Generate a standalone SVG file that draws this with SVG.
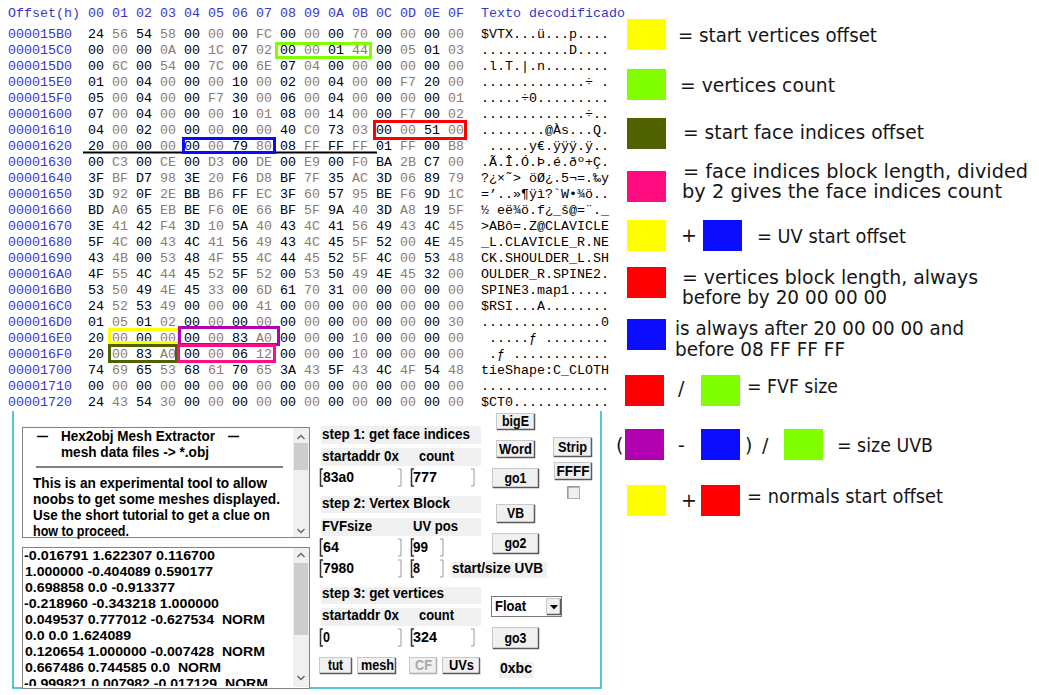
<svg xmlns="http://www.w3.org/2000/svg" width="1039" height="695" viewBox="0 0 1039 695">
<style>
.mono{font-family:"Liberation Mono","Courier New",monospace;font-size:13.33px;white-space:pre}
.hdr{fill:#3636cc}
.hb{fill:#000}
.g{fill:#927b69}
.ui{font-family:"Liberation Sans",Arial,sans-serif;font-weight:bold;font-size:14px;fill:#000}
.num{font-family:"Liberation Sans",Arial,sans-serif;font-weight:bold;font-size:13px;fill:#000}
.bt{font-family:"Liberation Sans",Arial,sans-serif;font-weight:bold;font-size:14px;fill:#000;text-anchor:middle}
.lg{font-family:"DejaVu Sans","Liberation Sans",sans-serif;font-size:19px;fill:#161616}
.box{fill:none;stroke-width:3}
.lbl{fill:#f0f0f0}
.bf{fill:#f0f0f0;stroke:#c8c8c8;stroke-width:1}
.bs{fill:none;stroke:#5a5a5a;stroke-width:1.5}
.brL{fill:none;stroke:#333;stroke-width:1.5}
.brR{fill:none;stroke:#999;stroke-width:1}
.chev{fill:none;stroke:#606060;stroke-width:1.3}
.sw{stroke:none}
</style>
<defs>
<clipPath id="clipLower"><rect x="23" y="548" width="270" height="138"/></clipPath>
</defs>
<rect x="0" y="0" width="1039" height="695" fill="#fff"/>

<g id="hex-dump">
<text class="mono hdr" x="8" y="16.5">Offset(h)</text>
<text class="mono hdr" x="88" y="16.5">00 01 02 03 04 05 06 07 08 09 0A 0B 0C 0D 0E 0F</text>
<text class="mono hdr" x="481" y="16.5">Texto decodificado</text>

<g id="offsets">
<text class="mono hdr" x="8" y="37.5">000015B0</text>
<text class="mono hdr" x="8" y="53.5">000015C0</text>
<text class="mono hdr" x="8" y="69.5">000015D0</text>
<text class="mono hdr" x="8" y="85.5">000015E0</text>
<text class="mono hdr" x="8" y="101.5">000015F0</text>
<text class="mono hdr" x="8" y="117.5">00001600</text>
<text class="mono hdr" x="8" y="133.5">00001610</text>
<text class="mono hdr" x="8" y="149.5">00001620</text>
<text class="mono hdr" x="8" y="165.5">00001630</text>
<text class="mono hdr" x="8" y="181.5">00001640</text>
<text class="mono hdr" x="8" y="197.5">00001650</text>
<text class="mono hdr" x="8" y="213.5">00001660</text>
<text class="mono hdr" x="8" y="229.5">00001670</text>
<text class="mono hdr" x="8" y="245.5">00001680</text>
<text class="mono hdr" x="8" y="261.5">00001690</text>
<text class="mono hdr" x="8" y="277.5">000016A0</text>
<text class="mono hdr" x="8" y="293.5">000016B0</text>
<text class="mono hdr" x="8" y="309.5">000016C0</text>
<text class="mono hdr" x="8" y="325.5">000016D0</text>
<text class="mono hdr" x="8" y="341.5">000016E0</text>
<text class="mono hdr" x="8" y="357.5">000016F0</text>
<text class="mono hdr" x="8" y="373.5">00001700</text>
<text class="mono hdr" x="8" y="389.5">00001710</text>
<text class="mono hdr" x="8" y="405.5">00001720</text>
</g>

<g id="bytes">
<text class="mono hb" x="88" y="37.5">24 <tspan class="g">56</tspan> 54 <tspan class="g">58</tspan> 00 <tspan class="g">00</tspan> 00 <tspan class="g">FC</tspan> 00 <tspan class="g">00</tspan> 00 <tspan class="g">70</tspan> 00 <tspan class="g">00</tspan> 00 <tspan class="g">00</tspan></text>
<text class="mono hb" x="88" y="53.5">00 <tspan class="g">00</tspan> 00 <tspan class="g">0A</tspan> 00 <tspan class="g">1C</tspan> 07 <tspan class="g">02</tspan> 00 <tspan class="g">00</tspan> 01 <tspan class="g">44</tspan> 00 <tspan class="g">05</tspan> 01 <tspan class="g">03</tspan></text>
<text class="mono hb" x="88" y="69.5">00 <tspan class="g">6C</tspan> 00 <tspan class="g">54</tspan> 00 <tspan class="g">7C</tspan> 00 <tspan class="g">6E</tspan> 07 <tspan class="g">04</tspan> 00 <tspan class="g">00</tspan> 00 <tspan class="g">00</tspan> 00 <tspan class="g">00</tspan></text>
<text class="mono hb" x="88" y="85.5">01 <tspan class="g">00</tspan> 04 <tspan class="g">00</tspan> 00 <tspan class="g">00</tspan> 10 <tspan class="g">00</tspan> 02 <tspan class="g">00</tspan> 04 <tspan class="g">00</tspan> 00 <tspan class="g">F7</tspan> 20 <tspan class="g">00</tspan></text>
<text class="mono hb" x="88" y="101.5">05 <tspan class="g">00</tspan> 04 <tspan class="g">00</tspan> 00 <tspan class="g">F7</tspan> 30 <tspan class="g">00</tspan> 06 <tspan class="g">00</tspan> 04 <tspan class="g">00</tspan> 00 <tspan class="g">00</tspan> 00 <tspan class="g">01</tspan></text>
<text class="mono hb" x="88" y="117.5">07 <tspan class="g">00</tspan> 04 <tspan class="g">00</tspan> 00 <tspan class="g">00</tspan> 10 <tspan class="g">01</tspan> 08 <tspan class="g">00</tspan> 14 <tspan class="g">00</tspan> 00 <tspan class="g">F7</tspan> 00 <tspan class="g">02</tspan></text>
<text class="mono hb" x="88" y="133.5">04 <tspan class="g">00</tspan> 02 <tspan class="g">00</tspan> 00 <tspan class="g">00</tspan> 00 <tspan class="g">00</tspan> 40 <tspan class="g">C0</tspan> 73 <tspan class="g">03</tspan> 00 <tspan class="g">00</tspan> 51 <tspan class="g">00</tspan></text>
<text class="mono hb" x="88" y="149.5">20 <tspan class="g">00</tspan> 00 <tspan class="g">00</tspan> 00 <tspan class="g">00</tspan> 79 <tspan class="g">80</tspan> 08 <tspan class="g">FF</tspan> FF <tspan class="g">FF</tspan> 01 <tspan class="g">FF</tspan> 00 <tspan class="g">B8</tspan></text>
<text class="mono hb" x="88" y="165.5">00 <tspan class="g">C3</tspan> 00 <tspan class="g">CE</tspan> 00 <tspan class="g">D3</tspan> 00 <tspan class="g">DE</tspan> 00 <tspan class="g">E9</tspan> 00 <tspan class="g">F0</tspan> BA <tspan class="g">2B</tspan> C7 <tspan class="g">00</tspan></text>
<text class="mono hb" x="88" y="181.5">3F <tspan class="g">BF</tspan> D7 <tspan class="g">98</tspan> 3E <tspan class="g">20</tspan> F6 <tspan class="g">D8</tspan> BF <tspan class="g">7F</tspan> 35 <tspan class="g">AC</tspan> 3D <tspan class="g">06</tspan> 89 <tspan class="g">79</tspan></text>
<text class="mono hb" x="88" y="197.5">3D <tspan class="g">92</tspan> 0F <tspan class="g">2E</tspan> BB <tspan class="g">B6</tspan> FF <tspan class="g">EC</tspan> 3F <tspan class="g">60</tspan> 57 <tspan class="g">95</tspan> BE <tspan class="g">F6</tspan> 9D <tspan class="g">1C</tspan></text>
<text class="mono hb" x="88" y="213.5">BD <tspan class="g">A0</tspan> 65 <tspan class="g">EB</tspan> BE <tspan class="g">F6</tspan> 0E <tspan class="g">66</tspan> BF <tspan class="g">5F</tspan> 9A <tspan class="g">40</tspan> 3D <tspan class="g">A8</tspan> 19 <tspan class="g">5F</tspan></text>
<text class="mono hb" x="88" y="229.5">3E <tspan class="g">41</tspan> 42 <tspan class="g">F4</tspan> 3D <tspan class="g">10</tspan> 5A <tspan class="g">40</tspan> 43 <tspan class="g">4C</tspan> 41 <tspan class="g">56</tspan> 49 <tspan class="g">43</tspan> 4C <tspan class="g">45</tspan></text>
<text class="mono hb" x="88" y="245.5">5F <tspan class="g">4C</tspan> 00 <tspan class="g">43</tspan> 4C <tspan class="g">41</tspan> 56 <tspan class="g">49</tspan> 43 <tspan class="g">4C</tspan> 45 <tspan class="g">5F</tspan> 52 <tspan class="g">00</tspan> 4E <tspan class="g">45</tspan></text>
<text class="mono hb" x="88" y="261.5">43 <tspan class="g">4B</tspan> 00 <tspan class="g">53</tspan> 48 <tspan class="g">4F</tspan> 55 <tspan class="g">4C</tspan> 44 <tspan class="g">45</tspan> 52 <tspan class="g">5F</tspan> 4C <tspan class="g">00</tspan> 53 <tspan class="g">48</tspan></text>
<text class="mono hb" x="88" y="277.5">4F <tspan class="g">55</tspan> 4C <tspan class="g">44</tspan> 45 <tspan class="g">52</tspan> 5F <tspan class="g">52</tspan> 00 <tspan class="g">53</tspan> 50 <tspan class="g">49</tspan> 4E <tspan class="g">45</tspan> 32 <tspan class="g">00</tspan></text>
<text class="mono hb" x="88" y="293.5">53 <tspan class="g">50</tspan> 49 <tspan class="g">4E</tspan> 45 <tspan class="g">33</tspan> 00 <tspan class="g">6D</tspan> 61 <tspan class="g">70</tspan> 31 <tspan class="g">00</tspan> 00 <tspan class="g">00</tspan> 00 <tspan class="g">00</tspan></text>
<text class="mono hb" x="88" y="309.5">24 <tspan class="g">52</tspan> 53 <tspan class="g">49</tspan> 00 <tspan class="g">00</tspan> 00 <tspan class="g">41</tspan> 00 <tspan class="g">00</tspan> 00 <tspan class="g">00</tspan> 00 <tspan class="g">00</tspan> 00 <tspan class="g">00</tspan></text>
<text class="mono hb" x="88" y="325.5">01 <tspan class="g">05</tspan> 01 <tspan class="g">02</tspan> 00 <tspan class="g">00</tspan> 00 <tspan class="g">00</tspan> 00 <tspan class="g">00</tspan> 00 <tspan class="g">00</tspan> 00 <tspan class="g">00</tspan> 00 <tspan class="g">30</tspan></text>
<text class="mono hb" x="88" y="341.5">20 <tspan class="g">00</tspan> 00 <tspan class="g">00</tspan> 00 <tspan class="g">00</tspan> 83 <tspan class="g">A0</tspan> 00 <tspan class="g">00</tspan> 00 <tspan class="g">10</tspan> 00 <tspan class="g">00</tspan> 00 <tspan class="g">00</tspan></text>
<text class="mono hb" x="88" y="357.5">20 <tspan class="g">00</tspan> 83 <tspan class="g">A0</tspan> 00 <tspan class="g">00</tspan> 06 <tspan class="g">12</tspan> 00 <tspan class="g">00</tspan> 00 <tspan class="g">10</tspan> 00 <tspan class="g">00</tspan> 00 <tspan class="g">00</tspan></text>
<text class="mono hb" x="88" y="373.5">74 <tspan class="g">69</tspan> 65 <tspan class="g">53</tspan> 68 <tspan class="g">61</tspan> 70 <tspan class="g">65</tspan> 3A <tspan class="g">43</tspan> 5F <tspan class="g">43</tspan> 4C <tspan class="g">4F</tspan> 54 <tspan class="g">48</tspan></text>
<text class="mono hb" x="88" y="389.5">00 <tspan class="g">00</tspan> 00 <tspan class="g">00</tspan> 00 <tspan class="g">00</tspan> 00 <tspan class="g">00</tspan> 00 <tspan class="g">00</tspan> 00 <tspan class="g">00</tspan> 00 <tspan class="g">00</tspan> 00 <tspan class="g">00</tspan></text>
<text class="mono hb" x="88" y="405.5">24 <tspan class="g">43</tspan> 54 <tspan class="g">30</tspan> 00 <tspan class="g">00</tspan> 00 <tspan class="g">00</tspan> 00 <tspan class="g">00</tspan> 00 <tspan class="g">00</tspan> 00 <tspan class="g">00</tspan> 00 <tspan class="g">00</tspan></text>
</g>

<g id="decoded-text">
<text class="mono hb" x="481" y="37.5">$VTX...ü...p....</text>
<text class="mono hb" x="481" y="53.5">...........D....</text>
<text class="mono hb" x="481" y="69.5">.l.T.|.n........</text>
<text class="mono hb" x="481" y="85.5">.............÷ .</text>
<text class="mono hb" x="481" y="101.5">.....÷0.........</text>
<text class="mono hb" x="481" y="117.5">.............÷..</text>
<text class="mono hb" x="481" y="133.5">........@Às...Q.</text>
<text class="mono hb" x="481" y="149.5"> .....y€.ÿÿÿ.ÿ..</text>
<text class="mono hb" x="481" y="165.5">.Ã.Î.Ó.Þ.é.ðº+Ç.</text>
<text class="mono hb" x="481" y="181.5">?¿×˜> öØ¿.5¬=.‰y</text>
<text class="mono hb" x="481" y="197.5">=’..»¶ÿì?`W•¾ö..</text>
<text class="mono hb" x="481" y="213.5">½ eë¾ö.f¿_š@=¨._</text>
<text class="mono hb" x="481" y="229.5">&gt;ABô=.Z@CLAVICLE</text>
<text class="mono hb" x="481" y="245.5">_L.CLAVICLE_R.NE</text>
<text class="mono hb" x="481" y="261.5">CK.SHOULDER_L.SH</text>
<text class="mono hb" x="481" y="277.5">OULDER_R.SPINE2.</text>
<text class="mono hb" x="481" y="293.5">SPINE3.map1.....</text>
<text class="mono hb" x="481" y="309.5">$RSI...A........</text>
<text class="mono hb" x="481" y="325.5">...............0</text>
<text class="mono hb" x="481" y="341.5"> .....ƒ ........</text>
<text class="mono hb" x="481" y="357.5"> .ƒ ............</text>
<text class="mono hb" x="481" y="373.5">tieShape:C_CLOTH</text>
<text class="mono hb" x="481" y="389.5">................</text>
<text class="mono hb" x="481" y="405.5">$CT0............</text>
</g>

<g id="highlights">
<line x1="83" y1="152.5" x2="377" y2="152.5" stroke="#000" stroke-width="2"/>
<rect class="box" x="276.5" y="43.5" width="94" height="14" stroke="#80ff00"/>
<rect class="box" x="374.5" y="121.5" width="91" height="17" stroke="#ff0000"/>
<rect class="box" x="183.5" y="138.5" width="91" height="14" stroke="#0a0aff"/>
<rect class="box" x="109.5" y="329.5" width="69" height="13" stroke="#ffff00"/>
<rect class="box" x="179.5" y="327.5" width="99" height="17" stroke="#b000b0"/>
<rect class="box" x="109.5" y="345.5" width="67" height="16" stroke="#4f6100"/>
<rect class="box" x="178.5" y="345.5" width="96" height="16" stroke="#ff0d86"/>
</g>
</g>

<g id="tool-panel">
<path d="M13,411 V688 H601 V411" fill="none" stroke="#1ab4cc" stroke-width="1.5"/>

<g id="info-box">
<rect x="22.5" y="427.5" width="287" height="110" fill="#fff" stroke="#828282"/>
<rect x="293" y="428" width="16" height="109" fill="#f0f0f0"/>
<polyline class="chev" points="297.5,439 301,435.5 304.5,439"/>
<rect x="294" y="443" width="14" height="27" fill="#cdcdcd"/>
<polyline class="chev" points="297.5,529 301,532.5 304.5,529"/>
<text class="ui" x="37" y="441" textLength="11" lengthAdjust="spacingAndGlyphs">—</text>
<text class="ui" x="61" y="441" textLength="154" lengthAdjust="spacingAndGlyphs">Hex2obj Mesh Extractor</text>
<text class="ui" x="228" y="441" textLength="11" lengthAdjust="spacingAndGlyphs">—</text>
<text class="ui" x="61" y="457" textLength="148" lengthAdjust="spacingAndGlyphs">mesh data files -&gt; *.obj</text>
<line x1="36" y1="467" x2="283" y2="467" stroke="#000" stroke-width="1"/>
<text class="ui" x="33" y="488" textLength="234" lengthAdjust="spacingAndGlyphs">This is an experimental tool to allow</text>
<text class="ui" x="33" y="504" textLength="247" lengthAdjust="spacingAndGlyphs">noobs to get some meshes displayed.</text>
<text class="ui" x="33" y="520" textLength="237" lengthAdjust="spacingAndGlyphs">Use the short tutorial to get a clue on</text>
<text class="ui" x="33" y="536" textLength="96" lengthAdjust="spacingAndGlyphs">how to proceed.</text>
</g>

<g id="output-box">
<rect x="22.5" y="547.5" width="287" height="141" fill="#fff" stroke="#828282"/>
<rect x="293" y="548" width="16" height="139" fill="#f0f0f0"/>
<polyline class="chev" points="297.5,557 301,553.5 304.5,557"/>
<rect x="294" y="563" width="14" height="72" fill="#cdcdcd"/>
<polyline class="chev" points="297.5,676 301,679.5 304.5,676"/>
<g clip-path="url(#clipLower)">
<text class="num" x="24" y="560" textLength="191" lengthAdjust="spacingAndGlyphs">-0.016791 1.622307 0.116700</text>
<text class="num" x="25" y="576" textLength="188" lengthAdjust="spacingAndGlyphs">1.000000 -0.404089 0.590177</text>
<text class="num" x="25" y="592" textLength="150" lengthAdjust="spacingAndGlyphs">0.698858 0.0 -0.913377</text>
<text class="num" x="24" y="608" textLength="195" lengthAdjust="spacingAndGlyphs">-0.218960 -0.343218 1.000000</text>
<text class="num" x="25" y="624" textLength="240" lengthAdjust="spacingAndGlyphs" style="white-space:pre">0.049537 0.777012 -0.627534  NORM</text>
<text class="num" x="25" y="640" textLength="106" lengthAdjust="spacingAndGlyphs">0.0 0.0 1.624089</text>
<text class="num" x="25" y="656" textLength="240" lengthAdjust="spacingAndGlyphs" style="white-space:pre">0.120654 1.000000 -0.007428  NORM</text>
<text class="num" x="25" y="672" textLength="196" lengthAdjust="spacingAndGlyphs" style="white-space:pre">0.667486 0.744585 0.0  NORM</text>
<text class="num" x="24" y="688" textLength="244" lengthAdjust="spacingAndGlyphs" style="white-space:pre">-0.999821 0.007982 -0.017129  NORM</text>
</g>
</g>

<g id="step-labels">
<rect class="lbl" x="321" y="426" width="160" height="18"/>
<rect class="lbl" x="321" y="448" width="160" height="18"/>
<rect class="lbl" x="321" y="496" width="160" height="17"/>
<rect class="lbl" x="321" y="518" width="160" height="18"/>
<rect class="lbl" x="451" y="562" width="96" height="16"/>
<rect class="lbl" x="321" y="587" width="160" height="17"/>
<rect class="lbl" x="321" y="608" width="160" height="18"/>
<rect class="lbl" x="499" y="662" width="35" height="16"/>
<text class="ui" x="322" y="439" textLength="148" lengthAdjust="spacingAndGlyphs">step 1: get face indices</text>
<text class="ui" x="322" y="461" textLength="77" lengthAdjust="spacingAndGlyphs">startaddr 0x</text>
<text class="ui" x="419" y="461" textLength="35" lengthAdjust="spacingAndGlyphs">count</text>
<text class="ui" x="322" y="508" textLength="128" lengthAdjust="spacingAndGlyphs">step 2: Vertex Block</text>
<text class="ui" x="322" y="531" textLength="50" lengthAdjust="spacingAndGlyphs">FVFsize</text>
<text class="ui" x="413" y="531" textLength="45" lengthAdjust="spacingAndGlyphs">UV pos</text>
<text class="ui" x="452" y="573" textLength="91" lengthAdjust="spacingAndGlyphs">start/size UVB</text>
<text class="ui" x="322" y="598" textLength="122" lengthAdjust="spacingAndGlyphs">step 3: get vertices</text>
<text class="ui" x="322" y="620" textLength="77" lengthAdjust="spacingAndGlyphs">startaddr 0x</text>
<text class="ui" x="419" y="620" textLength="35" lengthAdjust="spacingAndGlyphs">count</text>
<text class="ui" x="500" y="673" textLength="32" lengthAdjust="spacingAndGlyphs">0xbc</text>
</g>

<g id="input-fields">
<path class="brL" d="M323,469 h-2.5 v17 h2.5 M414,469 h-2.5 v17 h2.5 M323,539 h-2.5 v17 h2.5 M414,539 h-2.5 v17 h2.5 M323,560 h-2.5 v17 h2.5 M414,560 h-2.5 v17 h2.5 M323,629 h-2.5 v17 h2.5 M414,629 h-2.5 v17 h2.5"/>
<path class="brR" d="M398,469 h3 v17 h-3 M471,469 h3 v17 h-3 M398,539 h3 v17 h-3 M440,539 h3 v17 h-3 M398,560 h3 v17 h-3 M440,560 h3 v17 h-3 M398,629 h3 v17 h-3 M471,629 h3 v17 h-3"/>
<text class="ui" x="323" y="482" textLength="31" lengthAdjust="spacingAndGlyphs">83a0</text>
<text class="ui" x="413" y="482" textLength="24" lengthAdjust="spacingAndGlyphs">777</text>
<text class="ui" x="323" y="552" textLength="16" lengthAdjust="spacingAndGlyphs">64</text>
<text class="ui" x="413" y="552" textLength="15" lengthAdjust="spacingAndGlyphs">99</text>
<text class="ui" x="323" y="573" textLength="31" lengthAdjust="spacingAndGlyphs">7980</text>
<text class="ui" x="413" y="573" textLength="7" lengthAdjust="spacingAndGlyphs">8</text>
<text class="ui" x="323" y="642" textLength="7" lengthAdjust="spacingAndGlyphs">0</text>
<text class="ui" x="413" y="642" textLength="24" lengthAdjust="spacingAndGlyphs">324</text>
</g>

<g id="buttons">
<g id="btn-bigE"><rect class="bf" x="496.5" y="413.5" width="38" height="16"/><path class="bs" d="M497,429.5 H534.5 V414"/><text class="bt" x="515.5" y="426" textLength="27" lengthAdjust="spacingAndGlyphs">bigE</text></g>
<g id="btn-Word"><rect class="bf" x="496.5" y="440.5" width="38" height="17"/><path class="bs" d="M497,457.5 H534.5 V441"/><text class="bt" x="515.5" y="453.5" textLength="33" lengthAdjust="spacingAndGlyphs">Word</text></g>
<g id="btn-go1"><rect class="bf" x="492.5" y="468.5" width="46" height="19"/><path class="bs" d="M493,487.5 H538.5 V469"/><text class="bt" x="515.5" y="482.5" textLength="22" lengthAdjust="spacingAndGlyphs">go1</text></g>
<g id="btn-Strip"><rect class="bf" x="553.5" y="437.5" width="38" height="19"/><path class="bs" d="M554,456.5 H591.5 V438"/><text class="bt" x="572.5" y="451.5" textLength="29" lengthAdjust="spacingAndGlyphs">Strip</text></g>
<g id="btn-FFFF"><rect class="bf" x="554.5" y="462.5" width="37" height="17"/><path class="bs" d="M555,479.5 H591.5 V463"/><text class="bt" x="573" y="475.5" textLength="33" lengthAdjust="spacingAndGlyphs">FFFF</text></g>
<g id="checkbox"><rect x="567.5" y="486.5" width="12" height="12" fill="#f0f0f0" stroke="#b0b0b0"/><path d="M568,498 V487 H579" fill="none" stroke="#808080"/></g>
<g id="btn-VB"><rect class="bf" x="496.5" y="504.5" width="38" height="18"/><path class="bs" d="M497,522.5 H534.5 V505"/><text class="bt" x="515.5" y="518" textLength="17" lengthAdjust="spacingAndGlyphs">VB</text></g>
<g id="btn-go2"><rect class="bf" x="492.5" y="533.5" width="46" height="20"/><path class="bs" d="M493,553.5 H538.5 V534"/><text class="bt" x="515.5" y="548" textLength="22" lengthAdjust="spacingAndGlyphs">go2</text></g>
<g id="dropdown-Float"><rect x="491.5" y="596.5" width="70" height="20" fill="#fff" stroke="#7a7a7a"/><rect class="bf" x="546.5" y="598.5" width="14" height="16"/><path class="bs" d="M547,614.5 H560.5 V599"/><polygon points="550,605 558,605 554,609.5" fill="#000"/><text class="ui" x="495" y="611" textLength="31" lengthAdjust="spacingAndGlyphs">Float</text></g>
<g id="btn-go3"><rect class="bf" x="492.5" y="627.5" width="46" height="21"/><path class="bs" d="M493,648.5 H538.5 V628"/><text class="bt" x="515.5" y="642.5" textLength="22" lengthAdjust="spacingAndGlyphs">go3</text></g>
<g id="btn-tut"><rect class="bf" x="319.5" y="657.5" width="32" height="16"/><path class="bs" d="M320,673.5 H351.5 V658"/><text class="bt" x="335.5" y="670" textLength="15" lengthAdjust="spacingAndGlyphs">tut</text></g>
<g id="btn-mesh"><rect class="bf" x="357.5" y="657.5" width="38" height="16"/><path class="bs" d="M358,673.5 H395.5 V658"/><text class="bt" x="377.5" y="670" textLength="33" lengthAdjust="spacingAndGlyphs">mesh</text></g>
<g id="btn-CF"><rect class="bf" x="409.5" y="657.5" width="27" height="16"/><path d="M410,673.5 H436.5 V658" fill="none" stroke="#b0b0b0" stroke-width="1.5"/><text class="bt" x="423.5" y="670" textLength="17" lengthAdjust="spacingAndGlyphs" style="fill:#a8a8a8">CF</text></g>
<g id="btn-UVs"><rect class="bf" x="442.5" y="657.5" width="37" height="16"/><path class="bs" d="M443,673.5 H479.5 V658"/><text class="bt" x="461.5" y="670" textLength="25" lengthAdjust="spacingAndGlyphs">UVs</text></g>
</g>
</g>

<g id="legend">
<g id="legend-1"><rect class="sw" x="627" y="19" width="39" height="31" fill="#ffff00"/><text class="lg" x="678" y="42" textLength="199" lengthAdjust="spacingAndGlyphs">= start vertices offset</text></g>
<g id="legend-2"><rect class="sw" x="627" y="69" width="39" height="31" fill="#80ff00"/><text class="lg" x="680" y="92" textLength="155" lengthAdjust="spacingAndGlyphs">= vertices count</text></g>
<g id="legend-3"><rect class="sw" x="627" y="118" width="39" height="31" fill="#4f6100"/><text class="lg" x="683" y="139" textLength="241" lengthAdjust="spacingAndGlyphs">= start face indices offset</text></g>
<g id="legend-4"><rect class="sw" x="627" y="171" width="39" height="31" fill="#ff0d80"/><text class="lg" x="683" y="177.5" textLength="345" lengthAdjust="spacingAndGlyphs">= face indices block length, divided</text><text class="lg" x="682" y="197.5" textLength="320" lengthAdjust="spacingAndGlyphs">by 2 gives the face indices count</text></g>
<g id="legend-5"><rect class="sw" x="627" y="220" width="39" height="31" fill="#ffff00"/><text class="lg" x="681" y="242">+</text><rect class="sw" x="703" y="220" width="39" height="31" fill="#0c0cff"/><text class="lg" x="757" y="243" textLength="149" lengthAdjust="spacingAndGlyphs">= UV start offset</text></g>
<g id="legend-6"><rect class="sw" x="627" y="267" width="39" height="31" fill="#ff0000"/><text class="lg" x="682" y="284" textLength="296" lengthAdjust="spacingAndGlyphs">= vertices block length, always</text><text class="lg" x="682" y="304" textLength="205" lengthAdjust="spacingAndGlyphs">before by 20 00 00 00</text></g>
<g id="legend-7"><rect class="sw" x="627" y="319" width="39" height="31" fill="#0c0cff"/><text class="lg" x="675" y="335" textLength="289" lengthAdjust="spacingAndGlyphs">is always after 20 00 00 00 and</text><text class="lg" x="675" y="356" textLength="170" lengthAdjust="spacingAndGlyphs">before 08 FF FF FF</text></g>
<g id="legend-8"><rect class="sw" x="625" y="375" width="39" height="31" fill="#ff0000"/><text class="lg" x="678" y="395">/</text><rect class="sw" x="701" y="375" width="39" height="31" fill="#80ff00"/><text class="lg" x="747" y="393" textLength="91" lengthAdjust="spacingAndGlyphs">= FVF size</text></g>
<g id="legend-9"><text class="lg" x="616" y="452">(</text><rect class="sw" x="625" y="429" width="39" height="31" fill="#b000b0"/><text class="lg" x="678" y="452">-</text><rect class="sw" x="701" y="429" width="39" height="31" fill="#0c0cff"/><text class="lg" x="745" y="452">)</text><text class="lg" x="762" y="452">/</text><rect class="sw" x="784" y="429" width="39" height="31" fill="#80ff00"/><text class="lg" x="837" y="452" textLength="96" lengthAdjust="spacingAndGlyphs">= size UVB</text></g>
<g id="legend-10"><rect class="sw" x="627" y="485" width="39" height="31" fill="#ffff00"/><text class="lg" x="681" y="507">+</text><rect class="sw" x="701" y="485" width="39" height="31" fill="#ff0000"/><text class="lg" x="747" y="503" textLength="196" lengthAdjust="spacingAndGlyphs">= normals start offset</text></g>
</g>
</svg>
